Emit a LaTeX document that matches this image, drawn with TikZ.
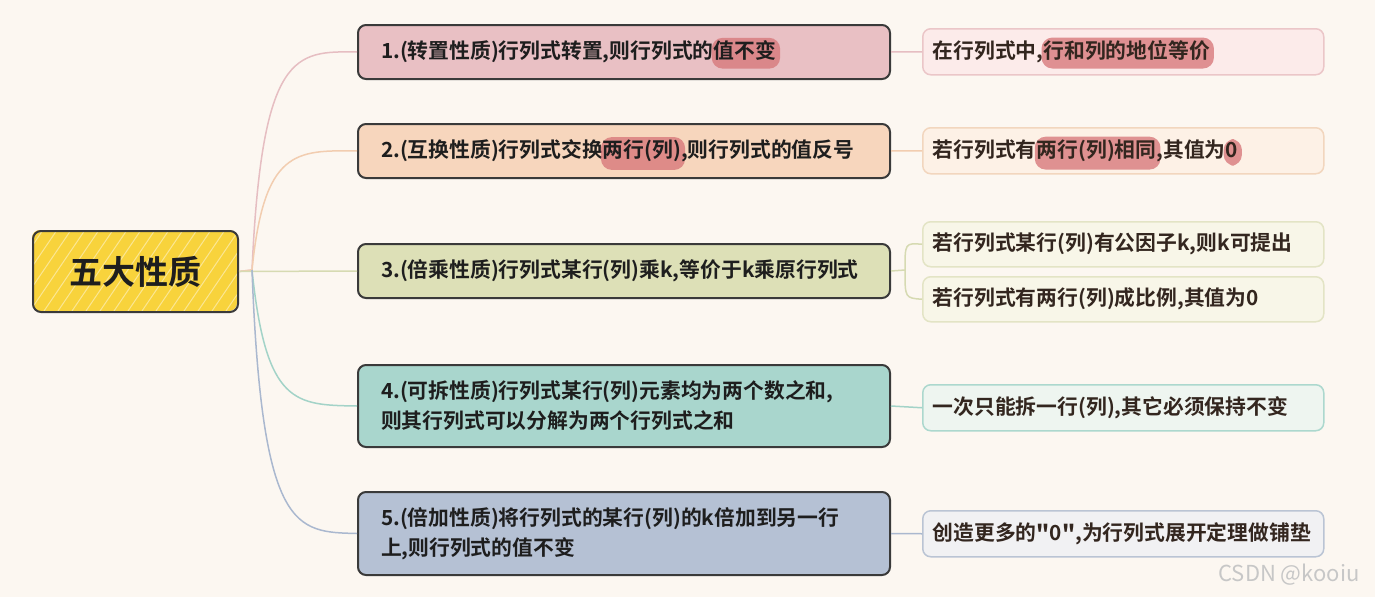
\documentclass[tikz,border=0pt]{standalone}
\usepackage{fontspec}
\setmainfont{Noto Sans CJK SC}[BoldFont={Noto Sans CJK SC Bold}]
\newfontfamily\qf{Noto Sans CJK SC Bold}
\definecolor{bg}{HTML}{FCF7F1}
\definecolor{txt}{HTML}{1E1E1E}
\definecolor{rtxt}{HTML}{33261F}
\definecolor{edge}{HTML}{3A3A3A}
\definecolor{hlc}{HTML}{D7777A}
\definecolor{rootc}{HTML}{F8D33C}
\definecolor{f1}{HTML}{E9C0C4}\definecolor{l1}{HTML}{E6BEC2}\definecolor{r1}{HTML}{FCEBEA}\definecolor{e1}{HTML}{EBC6C8}
\definecolor{f2}{HTML}{F7D6BD}\definecolor{l2}{HTML}{F2CDB0}\definecolor{r2}{HTML}{FDF1E6}\definecolor{e2}{HTML}{F2D6BE}
\definecolor{f3}{HTML}{DDE0B7}\definecolor{l3}{HTML}{D6DAB2}\definecolor{r3}{HTML}{F8F6E8}\definecolor{e3}{HTML}{E3E4C5}
\definecolor{f4}{HTML}{A9D6CD}\definecolor{l4}{HTML}{A3D3C8}\definecolor{r4}{HTML}{EEF5F0}\definecolor{e4}{HTML}{ACD8CE}
\definecolor{f5}{HTML}{B5C1D4}\definecolor{l5}{HTML}{AAB8CF}\definecolor{r5}{HTML}{F1F1F3}\definecolor{e5}{HTML}{BAC4D4}
\tikzset{
  hlplain/.style={inner sep=0pt,outer sep=0pt,draw=none,fill=none,text width={},minimum width=0pt,minimum height=0pt,anchor=center,align=center},
}
\newcommand{\hl}[1]{\tikz[baseline=(h.base)]{\node[hlplain](h){\phantom{#1}};
\fill[overlay,hlc,opacity=0.78,rounded corners=11pt] ([xshift=-2pt,yshift=-8pt]h.south west) rectangle ([xshift=4pt,yshift=3pt]h.north east);
\node[hlplain] at (h.center) {#1};}}
\tikzset{
  x=1pt,y=-1pt,
  mainbox/.style={draw=edge,line width=2pt,rounded corners=8pt,anchor=north west,minimum width=532pt,inner xsep=23pt,inner ysep=0pt,text width=486pt,align=left,text=txt,font=\fontsize{20.8}{30}\selectfont\bfseries},
  rbox/.style={line width=1.5pt,rounded corners=8pt,anchor=north west,minimum width=401pt,minimum height=46pt,inner xsep=10pt,inner ysep=0pt,text width=381pt,align=left,text=rtxt,font=\fontsize{20.8}{30}\selectfont\bfseries},
  link/.style={line width=1.5pt},
}
\begin{document}
\begin{tikzpicture}
\fill[bg] (0,0) rectangle (1375,597);
\useasboundingbox (0,0) rectangle (1375,597);
% root box with hatching
\fill[rootc,rounded corners=8pt] (32,230) rectangle (237,311);
\begin{scope}
\clip[rounded corners=8pt] (32,230) rectangle (237,311);
\foreach \i in {-40,-26,...,250}{
  \draw[white,opacity=0.45,line width=1pt] (\i,311) -- (\i+55,230);
}
\end{scope}
\node[draw=edge,line width=2pt,rounded corners=8pt,anchor=north west,minimum width=205pt,minimum height=81pt,inner sep=0pt,text=txt,font=\fontsize{33}{36}\selectfont\bfseries] (root) at (32,230) {五大性质};
\coordinate (j) at (252,270);
% main boxes
\node[mainbox,fill=f1,minimum height=54pt] (b1) at (357,24) {1.(转置性质)行列式转置,则行列式的\hl{值不变}};
\node[mainbox,fill=f2,minimum height=54pt] (b2) at (357,123) {2.(互换性质)行列式交换\hl{两行(列)},则行列式的值反号};
\node[mainbox,fill=f3,minimum height=54pt] (b3) at (357,243) {3.(倍乘性质)行列式某行(列)乘k,等价于k乘原行列式};
\node[mainbox,fill=f4,minimum height=82pt] (b4) at (357,364) {4.(可拆性质)行列式某行(列)元素均为两个数之和,\\则其行列式可以分解为两个行列式之和};
\node[mainbox,fill=f5,minimum height=83pt] (b5) at (357,491) {5.(倍加性质)将行列式的某行(列)的k倍加到另一行\\上,则行列式的值不变};
% right boxes
\node[rbox,fill=r1,draw=e1] (c1) at (922,28) {在行列式中,\hl{行和列的地位等价}};
\node[rbox,fill=r2,draw=e2] (c2) at (922,127) {若行列式有\hl{两行(列)相同},其值为\hl{0}};
\node[rbox,fill=r3,draw=e3,minimum height=45pt] (c3a) at (922,221) {若行列式某行(列)有公因子k,则k可提出};
\node[rbox,fill=r3,draw=e3,minimum height=45pt] (c3b) at (922,276) {若行列式有两行(列)成比例,其值为0};
\node[rbox,fill=r4,draw=e4] (c4) at (922,384) {一次只能拆一行(列),其它必须保持不变};
\node[rbox,fill=r5,draw=e5] (c5) at (922,510) {创造更多的{\qf"}0{\qf"},为行列式展开定理做铺垫};
% root connectors
\draw[link,l1] (root.east) -- (j) .. controls (262,51) and (295,51) .. (b1.west);
\draw[link,l2] (root.east) -- (j) .. controls (264,150) and (295,150) .. (b2.west);
\draw[link,l3] (root.east) -- (b3.west);
\draw[link,l4] (j) .. controls (266,405) and (295,405) .. (b4.west);
\draw[link,l5] (j) .. controls (262,532) and (295,532) .. (b5.west);
% right connectors
\draw[link,l1] (b1.east) -- (c1.west);
\draw[link,l2] (b2.east) -- (c2.west);
\coordinate (k) at (905,270);
\draw[link,l3] (b3.east) -- (k);
\draw[link,l3] (k) .. controls (905,243) .. (c3a.west);
\draw[link,l3] (k) .. controls (905,298) .. (c3b.west);
\draw[link,l4] (b4.east) -- (c4.west);
\draw[link,l5] (b5.east) -- (c5.west);
% watermark
\node[text=black!22,font=\fontsize{22}{24}\selectfont,inner sep=0pt] (wm) at (1289,575) {CSDN @kooiu};
\end{tikzpicture}
\end{document}
